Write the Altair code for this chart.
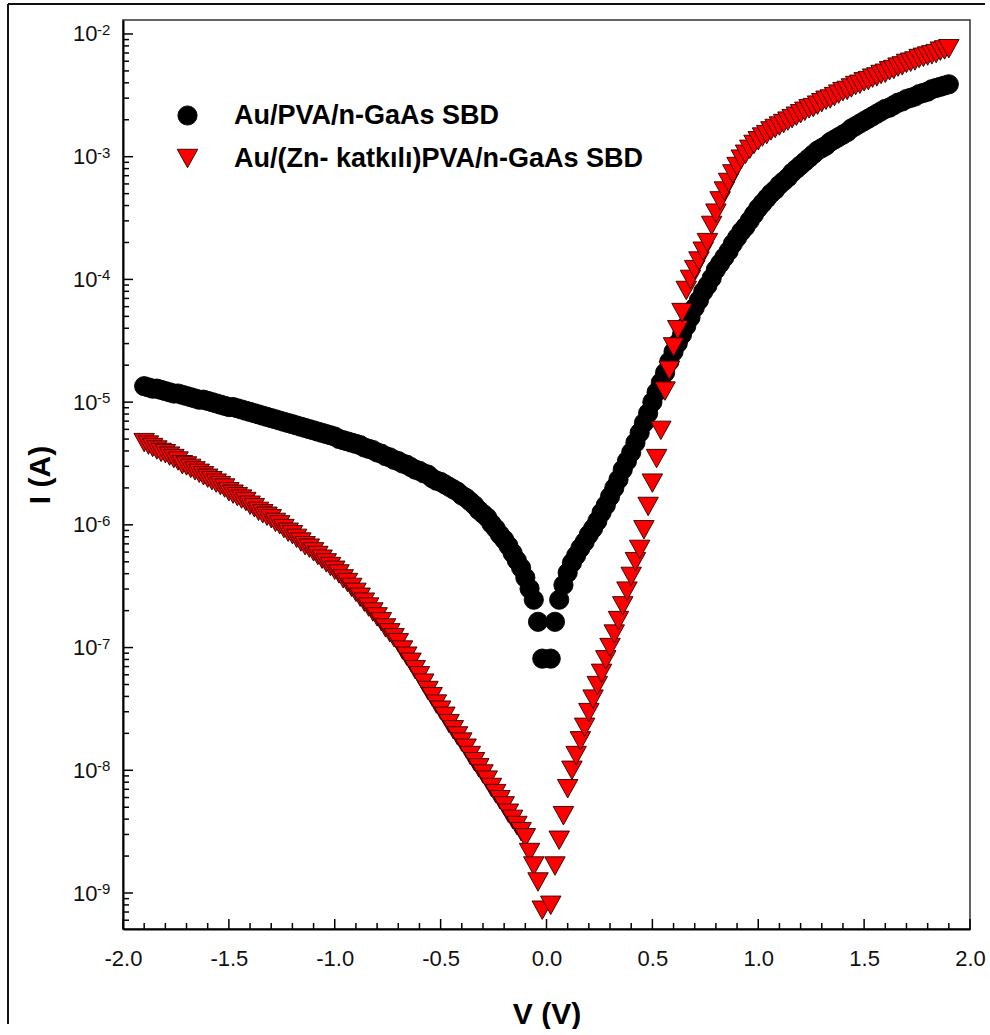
import altair as alt
import pandas as pd

# ---- data (current in A, stored as log10(I)) ----
voltage = [
    -1.90, -1.88, -1.86, -1.84, -1.82, -1.80, -1.78, -1.76, -1.74, -1.72,
    -1.70, -1.68, -1.66, -1.64, -1.62, -1.60, -1.58, -1.56, -1.54, -1.52,
    -1.50, -1.48, -1.46, -1.44, -1.42, -1.40, -1.38, -1.36, -1.34, -1.32,
    -1.30, -1.28, -1.26, -1.24, -1.22, -1.20, -1.18, -1.16, -1.14, -1.12,
    -1.10, -1.08, -1.06, -1.04, -1.02, -1.00, -0.98, -0.96, -0.94, -0.92,
    -0.90, -0.88, -0.86, -0.84, -0.82, -0.80, -0.78, -0.76, -0.74, -0.72,
    -0.70, -0.68, -0.66, -0.64, -0.62, -0.60, -0.58, -0.56, -0.54, -0.52,
    -0.50, -0.48, -0.46, -0.44, -0.42, -0.40, -0.38, -0.36, -0.34, -0.32,
    -0.30, -0.28, -0.26, -0.24, -0.22, -0.20, -0.18, -0.16, -0.14, -0.12,
    -0.10, -0.08, -0.06, -0.04, -0.02,
    0.02, 0.04, 0.06, 0.08, 0.10, 0.12, 0.14, 0.16, 0.18, 0.20,
    0.22, 0.24, 0.26, 0.28, 0.30, 0.32, 0.34, 0.36, 0.38, 0.40,
    0.42, 0.44, 0.46, 0.48, 0.50, 0.52, 0.54, 0.56, 0.58, 0.60,
    0.62, 0.64, 0.66, 0.68, 0.70, 0.72, 0.74, 0.76, 0.78, 0.80,
    0.82, 0.84, 0.86, 0.88, 0.90, 0.92, 0.94, 0.96, 0.98, 1.00,
    1.02, 1.04, 1.06, 1.08, 1.10, 1.12, 1.14, 1.16, 1.18, 1.20,
    1.22, 1.24, 1.26, 1.28, 1.30, 1.32, 1.34, 1.36, 1.38, 1.40,
    1.42, 1.44, 1.46, 1.48, 1.50, 1.52, 1.54, 1.56, 1.58, 1.60,
    1.62, 1.64, 1.66, 1.68, 1.70, 1.72, 1.74, 1.76, 1.78, 1.80,
    1.82, 1.84, 1.86, 1.88, 1.90,
]

log10_I_pva = [
    -4.87, -4.88, -4.89, -4.89, -4.90, -4.91, -4.92, -4.93, -4.93, -4.94,
    -4.95, -4.96, -4.97, -4.98, -4.98, -4.99, -5.00, -5.01, -5.02, -5.03,
    -5.04, -5.04, -5.05, -5.06, -5.07, -5.08, -5.09, -5.10, -5.11, -5.12,
    -5.13, -5.14, -5.15, -5.16, -5.17, -5.18, -5.19, -5.20, -5.21, -5.22,
    -5.23, -5.24, -5.25, -5.26, -5.27, -5.28, -5.30, -5.31, -5.32, -5.33,
    -5.34, -5.35, -5.37, -5.38, -5.39, -5.41, -5.42, -5.44, -5.45, -5.47,
    -5.48, -5.50, -5.51, -5.53, -5.55, -5.56, -5.58, -5.59, -5.62, -5.64,
    -5.65, -5.67, -5.69, -5.71, -5.73, -5.76, -5.78, -5.81, -5.84, -5.88,
    -5.91, -5.94, -5.99, -6.03, -6.08, -6.12, -6.17, -6.23, -6.29, -6.35,
    -6.43, -6.52, -6.61, -6.79, -7.09,
    -7.09, -6.79, -6.61, -6.49, -6.39, -6.31, -6.25, -6.19, -6.14, -6.08,
    -6.03, -5.97, -5.90, -5.84, -5.77, -5.70, -5.63, -5.55, -5.48, -5.41,
    -5.33, -5.25, -5.17, -5.09, -5.00, -4.92, -4.84, -4.76, -4.67, -4.59,
    -4.52, -4.45, -4.38, -4.31, -4.23, -4.17, -4.10, -4.05, -3.99, -3.92,
    -3.87, -3.82, -3.77, -3.71, -3.66, -3.61, -3.57, -3.52, -3.47, -3.42,
    -3.38, -3.34, -3.30, -3.27, -3.23, -3.20, -3.17, -3.13, -3.10, -3.07,
    -3.04, -3.01, -2.98, -2.95, -2.93, -2.91, -2.88, -2.86, -2.84, -2.82,
    -2.80, -2.77, -2.75, -2.73, -2.71, -2.69, -2.67, -2.65, -2.63, -2.61,
    -2.60, -2.58, -2.56, -2.55, -2.53, -2.52, -2.51, -2.49, -2.48, -2.47,
    -2.45, -2.44, -2.43, -2.42, -2.41,
]

log10_I_zn = [
    -5.33, -5.35, -5.37, -5.39, -5.41, -5.42, -5.44, -5.46, -5.48, -5.51,
    -5.52, -5.54, -5.56, -5.58, -5.60, -5.62, -5.64, -5.66, -5.68, -5.70,
    -5.73, -5.75, -5.77, -5.79, -5.81, -5.84, -5.86, -5.89, -5.91, -5.93,
    -5.95, -5.98, -6.00, -6.03, -6.06, -6.08, -6.11, -6.14, -6.17, -6.19,
    -6.22, -6.25, -6.28, -6.31, -6.34, -6.37, -6.40, -6.44, -6.47, -6.51,
    -6.55, -6.59, -6.63, -6.67, -6.71, -6.75, -6.79, -6.84, -6.88, -6.92,
    -6.96, -7.02, -7.07, -7.12, -7.18, -7.23, -7.29, -7.35, -7.40, -7.46,
    -7.51, -7.56, -7.62, -7.67, -7.72, -7.77, -7.82, -7.88, -7.93, -7.98,
    -8.03, -8.08, -8.14, -8.19, -8.24, -8.29, -8.35, -8.40, -8.45, -8.50,
    -8.55, -8.67, -8.78, -8.91, -9.14,
    -9.10, -8.78, -8.57, -8.37, -8.15, -8.00, -7.88, -7.76, -7.65, -7.53,
    -7.42, -7.31, -7.21, -7.10, -7.00, -6.89, -6.78, -6.66, -6.54, -6.42,
    -6.30, -6.20, -6.04, -5.85, -5.66, -5.46, -5.23, -4.91, -4.74, -4.55,
    -4.41, -4.27, -4.09, -4.00, -3.92, -3.85, -3.77, -3.70, -3.56, -3.46,
    -3.36, -3.28, -3.21, -3.14, -3.08, -3.02, -2.98, -2.94, -2.90, -2.87,
    -2.84, -2.82, -2.79, -2.77, -2.75, -2.73, -2.71, -2.69, -2.67, -2.65,
    -2.63, -2.61, -2.60, -2.58, -2.56, -2.54, -2.53, -2.51, -2.49, -2.47,
    -2.46, -2.44, -2.42, -2.41, -2.39, -2.38, -2.36, -2.35, -2.33, -2.32,
    -2.30, -2.29, -2.27, -2.26, -2.24, -2.23, -2.22, -2.20, -2.19, -2.18,
    -2.17, -2.16, -2.14, -2.13, -2.12,
]

series_names = ["Au/PVA/n-GaAs SBD", "Au/(Zn- katkılı)PVA/n-GaAs SBD"]

x_major = [-2.0, -1.5, -1.0, -0.5, 0.0, 0.5, 1.0, 1.5, 2.0]
x_minor = [-1.9, -1.8, -1.7, -1.6, -1.4, -1.3, -1.2, -1.1, -0.9, -0.8, -0.7, -0.6,
           -0.4, -0.3, -0.2, -0.1, 0.1, 0.2, 0.3, 0.4, 0.6, 0.7, 0.8, 0.9,
           1.1, 1.2, 1.3, 1.4, 1.6, 1.7, 1.8, 1.9]
y_major = [1e-9, 1e-8, 1e-7, 1e-6, 1e-5, 1e-4, 1e-3, 1e-2]
y_exponents = ["-9", "-8", "-7", "-6", "-5", "-4", "-3", "-2"]
y_minor = [6e-10, 7e-10, 8e-10, 9e-10] + [m * 10.0 ** e for e in range(-9, -2) for m in range(2, 10)]

# ---- build tables ----
rows = []
for name, logs in zip(series_names, [log10_I_pva, log10_I_zn]):
    for v, lg in zip(voltage, logs):
        rows.append({"V": v, "I": 10.0 ** lg, "series": name})
df = pd.DataFrame(rows)

W, H = 847, 909
FONT = "Liberation Sans"
TRI = "M -1 -0.9 L 1 -0.9 L 0 0.9 Z"

xs = alt.Scale(domain=[-2.0, 2.0], nice=False, zero=False)
ys = alt.Scale(type="log", domain=[5.09e-10, 1.30e-2], nice=False)

x_axis = alt.Axis(values=x_major, ticks=False, grid=False, labelFlush=False,
                  labelExpr="datum.value < 0 ? '-' + format(-datum.value, '.1f') : format(datum.value, '.1f')",
                  labelFontSize=22, labelPadding=19, labelColor="#111111",
                  domainColor="black", domainWidth=2,
                  title="V (V)", titleFontSize=30, titleFontWeight="bold",
                  titleColor="black", titleX=W / 2, titleY=94,
                  titleBaseline="alphabetic", titleAlign="center")
y_axis = alt.Axis(values=y_major, labelExpr="'10'", ticks=False, grid=False,
                  labelFontSize=22, labelPadding=26, labelColor="#111111",
                  labelBaseline="middle", labelFlush=False,
                  domainColor="black", domainWidth=2,
                  title="I (A)", titleFontSize=30, titleFontWeight="bold",
                  titleColor="black", titleX=-74, titleY=H / 2, titleAngle=270,
                  titleBaseline="alphabetic", titleAlign="center")

points = alt.Chart(df).mark_point(filled=True, opacity=1, strokeWidth=0.9).encode(
    x=alt.X("V:Q", scale=xs, axis=x_axis),
    y=alt.Y("I:Q", scale=ys, axis=y_axis),
    color=alt.Color("series:N",
                    scale=alt.Scale(domain=series_names, range=["#000000", "#ff0000"]),
                    legend=alt.Legend(title=None, orient="none", legendX=51, legendY=82,
                                      labelFontSize=27, labelFontWeight="bold", labelFont=FONT,
                                      labelColor="black", labelOffset=33, rowPadding=15,
                                      symbolSize=310, symbolStrokeColor="#1a0000",
                                      symbolStrokeWidth=0.9, padding=0, labelLimit=600)),
    shape=alt.Shape("series:N",
                    scale=alt.Scale(domain=series_names, range=["circle", TRI])),
    size=alt.Size("series:N",
                  scale=alt.Scale(domain=series_names, range=[370, 420]), legend=None),
    stroke=alt.Stroke("series:N",
                      scale=alt.Scale(domain=series_names, range=["#000000", "#2a0000"]),
                      legend=None),
)

xmaj = alt.Chart(pd.DataFrame({"V": x_major})).mark_rule(color="black", strokeWidth=1.5).encode(
    x=alt.X("V:Q", scale=xs), y=alt.value(H), y2=alt.value(H - 10))
xmin = alt.Chart(pd.DataFrame({"V": x_minor})).mark_rule(color="black", strokeWidth=1.5).encode(
    x=alt.X("V:Q", scale=xs), y=alt.value(H), y2=alt.value(H - 6))
ymaj = alt.Chart(pd.DataFrame({"I": y_major})).mark_rule(color="black", strokeWidth=1.5).encode(
    y=alt.Y("I:Q", scale=ys), x=alt.value(0), x2=alt.value(10))
ymin = alt.Chart(pd.DataFrame({"I": y_minor})).mark_rule(color="black", strokeWidth=1.5).encode(
    y=alt.Y("I:Q", scale=ys), x=alt.value(0), x2=alt.value(6))

exps = alt.Chart(pd.DataFrame({"I": y_major, "exp": y_exponents})).mark_text(
    align="left", baseline="middle", fontSize=15, font=FONT, color="#111111", dy=-4).encode(
    y=alt.Y("I:Q", scale=ys), x=alt.value(-26), text="exp:N")

# outer picture frame: top and left edges, kept inside the page
frame_top = alt.Chart(pd.DataFrame({"a": [0]})).mark_rule(color="#111111", strokeWidth=2).encode(
    x=alt.value(-115), x2=alt.value(W + 15), y=alt.value(-16))
frame_left = alt.Chart(pd.DataFrame({"a": [0]})).mark_rule(color="#111111", strokeWidth=2).encode(
    x=alt.value(-115), y=alt.value(-16), y2=alt.value(H + 95))

chart = alt.layer(points, xmaj, xmin, ymaj, ymin, exps, frame_top, frame_left).properties(
    width=W, height=H,
    autosize=alt.AutoSizeParams(type="none"),
    padding={"left": 123, "top": 20, "right": 20, "bottom": 100},
).configure(font=FONT).configure_view(stroke="#333333", strokeWidth=1.5)

chart.save("out.html", embed_options={"renderer": "svg", "actions": False})
